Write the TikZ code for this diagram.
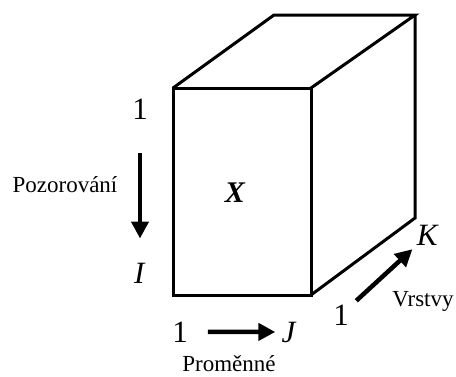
\documentclass[tikz,border=0pt]{standalone}
\usepackage{fontspec}
\setmainfont{Liberation Serif}
\usetikzlibrary{arrows.meta}

\begin{document}
\begin{tikzpicture}[
    x=1pt, y=-1pt,
    edge/.style={line width=3pt, line join=miter},
    axisarrow/.style={line width=4.5pt, -{Triangle[length=17pt, width=17pt]}},
    idx/.style={inner sep=0pt, anchor=base, font=\fontsize{31}{32}\selectfont},
    caption/.style={inner sep=0pt, anchor=base, font=\fontsize{23}{25}\selectfont}
]
\useasboundingbox (0,0) rectangle (456,376);

% Cube corners
\coordinate (ftl) at (173,88);
\coordinate (ftr) at (311,88);
\coordinate (fbr) at (311,295);
\coordinate (fbl) at (173,295);
\coordinate (btl) at (274,15);
\coordinate (btr) at (415,15);
\coordinate (bbr) at (415,218);

% Cube
\draw[edge] (ftl) -- (ftr) -- (fbr) -- (fbl) -- cycle;
\draw[edge] (ftl) -- (btl) -- (btr) -- (ftr);
\draw[edge] (btr) -- (bbr) -- (fbr);
\node[inner sep=0pt, anchor=base, font=\fontsize{30}{31}\selectfont\bfseries\itshape] (datax) at (235,202) {X};

% Rows
\node[idx] (rowfirst) at (140,119) {1};
\node[idx] (rowlast) at (140,283) {\textit{I}};
\node[caption] (rowcap) at (65,192) {Pozorování};
\draw[axisarrow, shorten <=34pt, shorten >=24pt] (rowfirst) -- (rowlast);

% Columns
\node[idx] (colfirst) at (180,342) {1};
\node[idx] (collast) at (289,342) {\textit{J}};
\node[caption] (colcap) at (229,371) {Proměnné};
\draw[axisarrow, shorten <=20pt, shorten >=6pt] (colfirst) -- (collast);

% Layers
\node[idx] (layfirst) at (341,325) {1};
\node[idx] (laylast) at (428,245) {\textit{K}};
\node[caption] (laycap) at (423,306) {Vrstvy};
\draw[axisarrow, shorten <=10pt, shorten >=6pt] (layfirst) -- (laylast);

\end{tikzpicture}
\end{document}
